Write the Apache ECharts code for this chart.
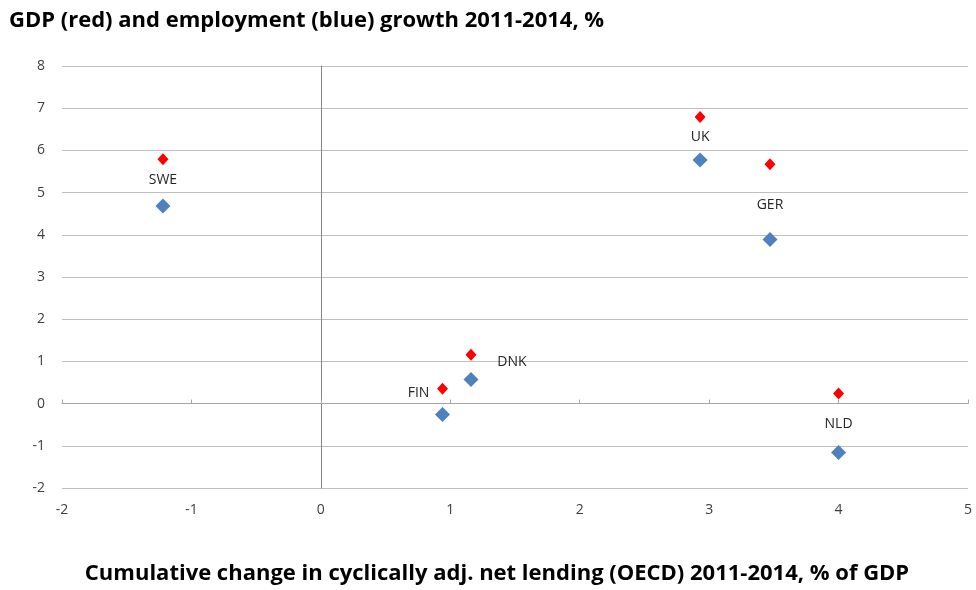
<!DOCTYPE html>
<html><head><meta charset="utf-8">
<script src="https://cdn.jsdelivr.net/npm/echarts@6/dist/echarts.min.js"></script>
<style>html,body{margin:0;padding:0;background:#fff}#c{width:976px;height:590px}</style>
</head><body><div id="c"></div>
<script>
const countries = ['SWE','UK','GER','DNK','FIN','NLD'];
const lendingChange = [-1.22, 2.93, 3.47, 1.16, 0.94, 4.00];
const gdpGrowth = [5.79, 6.79, 5.67, 1.16, 0.35, 0.24];
const employmentGrowth = [4.68, 5.77, 3.89, 0.57, -0.26, -1.16];
const xTicks = [-2, -1, 0, 1, 2, 3, 4, 5];
const yTicks = [-2, -1, 0, 1, 2, 3, 4, 5, 6, 7, 8];

// label placement (style only)
const labelOffset = {SWE:[0,21], UK:[0,20], GER:[0,41], DNK:[41,7], FIN:[-24,4], NLD:[0,31]};

const titleFont = '"Open Sans", Lato, sans-serif';
const font = '"Open Sans", Lato, sans-serif';
const chart = echarts.init(document.getElementById('c'), null, {renderer:'canvas'});
chart.setOption({
  animation:false,
  title:{text:'GDP (red) and employment (blue) growth 2011-2014, %', left:4, top:5,
    textStyle:{fontFamily:titleFont, fontWeight:'bold', fontSize:22, color:'#000'}},
  grid:{left:62, right:8, top:66, bottom:100, containLabel:false},
  xAxis:[{type:'value', min:xTicks[0], max:xTicks[xTicks.length-1], interval:1,
      name:'Cumulative change in cyclically adj. net lending (OECD) 2011-2014, % of GDP',
      nameLocation:'middle', nameGap:75,
      nameTextStyle:{fontFamily:titleFont, fontWeight:'bold', fontSize:22, color:'#000', padding:[0,36,0,0]},
      axisLine:{show:false}, axisTick:{show:false}, splitLine:{show:false},
      axisLabel:{margin:15, fontFamily:font, fontSize:14, color:'#404040'}},
    {type:'value', min:xTicks[0], max:xTicks[xTicks.length-1], interval:1, position:'bottom',
      axisLine:{show:true, onZero:true, onZeroAxisIndex:0, lineStyle:{color:'#a6a6a6', width:1}},
      axisTick:{show:true, inside:true, length:4, lineStyle:{color:'#a6a6a6'}},
      axisLabel:{show:false}, splitLine:{show:false}}],
  yAxis:[{type:'value', min:yTicks[0], max:yTicks[yTicks.length-1], interval:1,
      axisLine:{show:false}, axisTick:{show:false},
      splitLine:{show:true, lineStyle:{color:'#bfbfbf', width:1}},
      axisLabel:{margin:17, fontFamily:font, fontSize:14, color:'#404040'}},
    {type:'value', min:yTicks[0], max:yTicks[yTicks.length-1], interval:1, position:'left',
      axisLine:{show:true, onZero:true, onZeroAxisIndex:0, lineStyle:{color:'#868686', width:1}},
      axisTick:{show:false}, axisLabel:{show:false}, splitLine:{show:false}}],
  series:[
    {type:'scatter', name:'Employment', xAxisIndex:0, yAxisIndex:0, symbol:'diamond', symbolSize:[15,15],
      itemStyle:{color:'#4F81BD', opacity:1},
      data: countries.map((c,i)=>[lendingChange[i], employmentGrowth[i]])},
    {type:'scatter', name:'GDP', xAxisIndex:0, yAxisIndex:0, symbol:'diamond', symbolSize:[11,12],
      itemStyle:{color:'#FF0000', opacity:1},
      data: countries.map((c,i)=>({value:[lendingChange[i], gdpGrowth[i]],
        label:{show:true, position:'inside', offset:labelOffset[c], formatter:c,
          fontFamily:font, fontSize:14, color:'#262626'}}))}
  ]
});
</script></body></html>
